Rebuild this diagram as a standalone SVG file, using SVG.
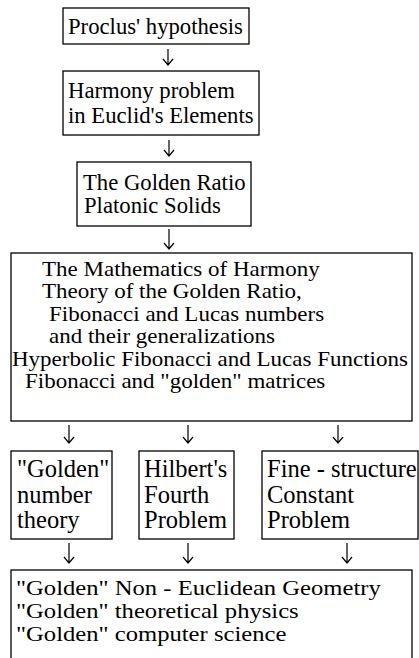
<svg xmlns="http://www.w3.org/2000/svg" width="419" height="658" viewBox="0 0 419 658">
<style>
rect{fill:#fff;stroke:#000;stroke-width:1.3}
.t text{fill:#000}
.b4 text{font-size:21px}
.b5 text{font-size:24.5px}
.b6 text{font-size:22px}
.c path{fill:none;stroke:#000;stroke-width:1.2}
</style>
<rect x="0" y="0" width="419" height="658" style="stroke:none"/>
<g class="t" font-family="'Liberation Serif', 'DejaVu Serif', serif" font-size="22.7">
<g id="n1"><rect x="63" y="8" width="186" height="36"/><text x="68" y="34">Proclus' hypothesis</text></g>
<g id="n2"><rect x="63" y="71" width="196" height="64"/><text x="68" y="98">Harmony problem</text><text x="68" y="123">in Euclid's Elements</text></g>
<g id="n3"><rect x="77" y="162" width="174" height="64"/><text x="83" y="190">The Golden Ratio</text><text x="84" y="213">Platonic Solids</text></g>
<g id="n4" class="b4"><rect x="11" y="253" width="401" height="168"/>
<text transform="translate(42 276) scale(1.095 1)">The Mathematics of Harmony</text>
<text transform="translate(42 298) scale(1.095 1)">Theory of the Golden Ratio,</text>
<text transform="translate(49 321) scale(1.095 1)">Fibonacci and  Lucas numbers</text>
<text transform="translate(49 343) scale(1.095 1)">and their generalizations</text>
<text transform="translate(12 366) scale(1.095 1)">Hyperbolic Fibonacci and Lucas Functions</text>
<text transform="translate(25 388) scale(1.095 1)">Fibonacci and "golden" matrices</text></g>
<g id="n5" class="b5"><rect x="11" y="451" width="101" height="88"/><text x="17" y="477">"Golden"</text><text x="17" y="503">number</text><text x="17" y="528">theory</text></g>
<g id="n6" class="b5"><rect x="139" y="451" width="95" height="88"/><text x="144" y="477">Hilbert's</text><text x="144" y="503">Fourth</text><text x="144" y="528">Problem</text></g>
<g id="n7" class="b5"><rect x="262" y="451" width="156" height="88"/><text x="267" y="477">Fine - structure</text><text x="267" y="503">Constant</text><text x="267" y="528">Problem</text></g>
<g id="n8" class="b6"><rect x="11" y="570" width="401" height="100"/>
<text transform="translate(16 595) scale(1.12 1)">"Golden" Non - Euclidean Geometry</text>
<text transform="translate(16 618) scale(1.12 1)">"Golden" theoretical physics</text>
<text transform="translate(16 641) scale(1.12 1)">"Golden" computer science</text></g>
</g>
<g id="connectors" class="c">
<path d="M168 49V65M163 59L168 65L173 59"/>
<path d="M169 140V156M164 150L169 156L174 150"/>
<path d="M169 229V249M164 243L169 249L174 243"/>
<path d="M69 425V443M64 437L69 443L74 437"/>
<path d="M188 425V443M183 437L188 443L193 437"/>
<path d="M338 425V443M333 437L338 443L343 437"/>
<path d="M69 543V563M64 557L69 563L74 557"/>
<path d="M188 543V563M183 557L188 563L193 557"/>
<path d="M347 543V563M342 557L347 563L352 557"/>
</g>
</svg>
